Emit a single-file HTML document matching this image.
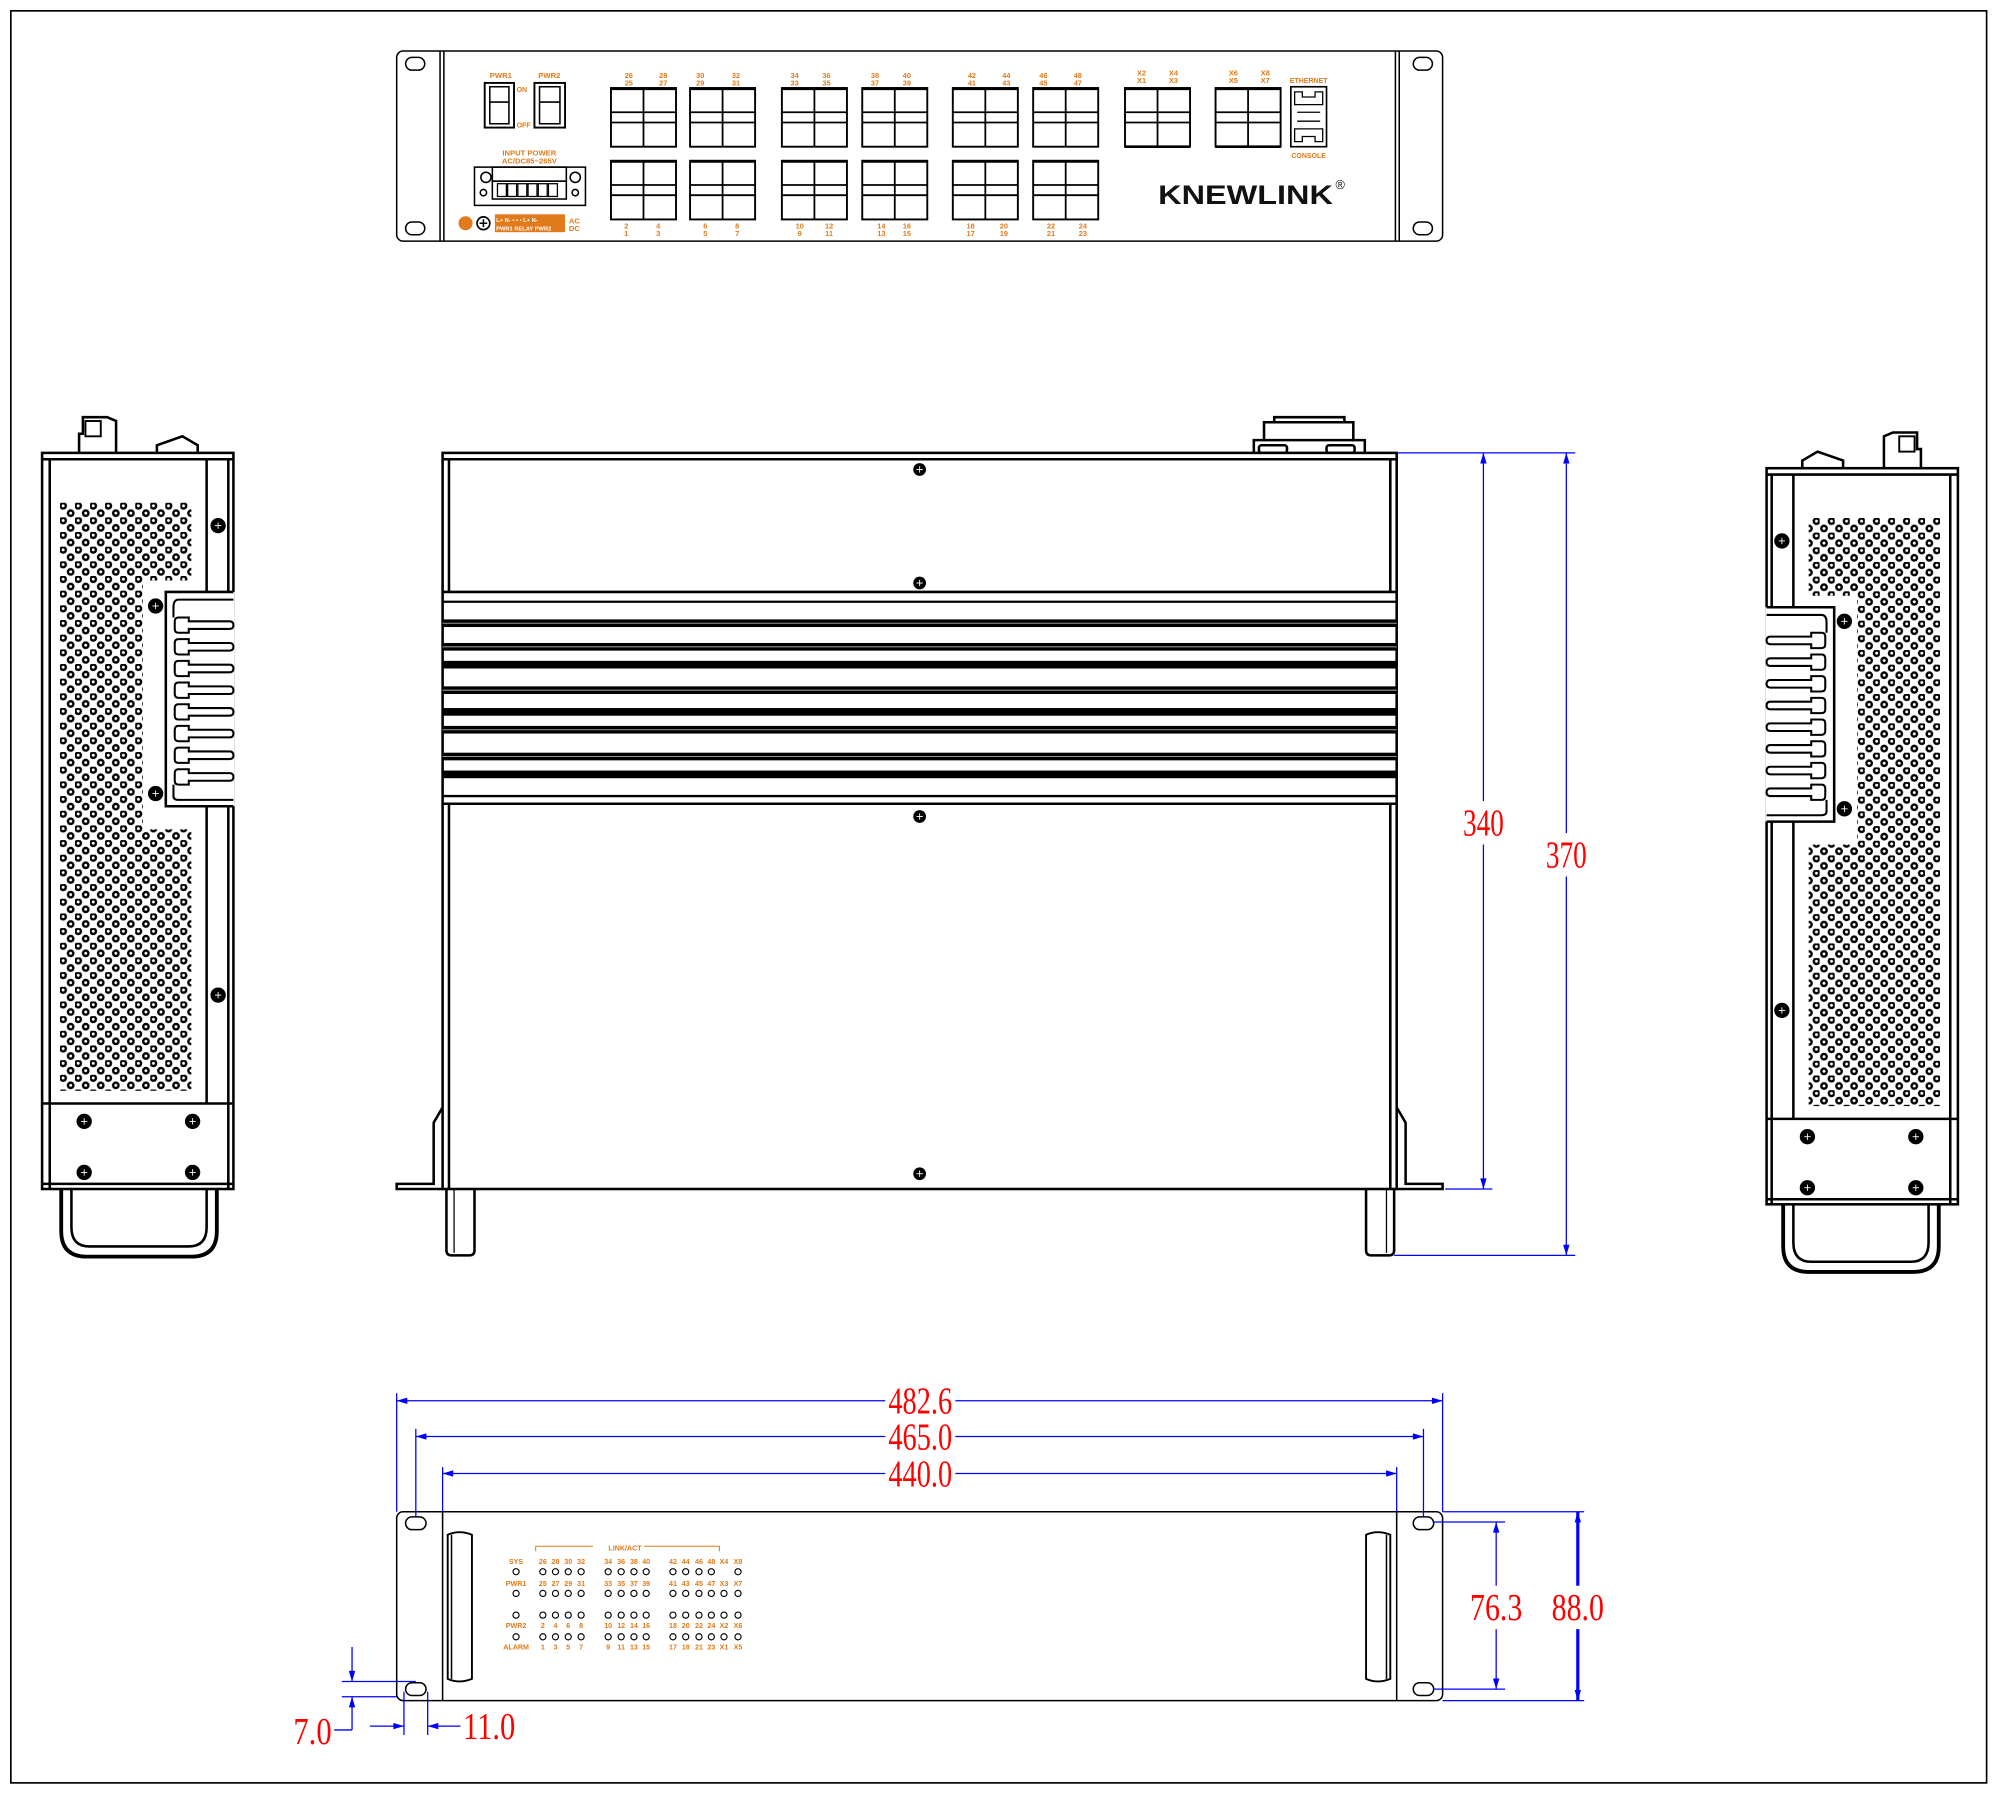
<!DOCTYPE html>
<html><head><meta charset="utf-8">
<style>
html,body{margin:0;padding:0;background:#fff;}
svg{display:block;}
.o{font-family:"Liberation Sans",sans-serif;fill:#e07a1a;font-weight:bold;}
.d{font-family:"Liberation Serif",serif;fill:#ff0000;}
</style></head>
<body>
<svg width="2000" height="1795" viewBox="0 0 1568 1407" preserveAspectRatio="none" xmlns="http://www.w3.org/2000/svg">
<defs>
<pattern id="perf" x="47" y="394" width="11.8" height="11.5" patternUnits="userSpaceOnUse">
<circle cx="2.5" cy="2.5" r="2.1" fill="#fff" stroke="#000" stroke-width="1.9"/>
<circle cx="8.4" cy="8.25" r="2.1" fill="#fff" stroke="#000" stroke-width="1.9"/>
</pattern>
<marker id="ar" viewBox="0 0 10 6" refX="10" refY="3" markerWidth="14" markerHeight="5" orient="auto-start-reverse" markerUnits="userSpaceOnUse"><path d="M0,0 L10,3 L0,6 z" fill="#0000ff"/></marker>
<g id="screw"><circle r="5" fill="#000"/><line x1="-2.5" y1="0" x2="2.5" y2="0" stroke="#fff" stroke-width="0.7"/><line x1="0" y1="-2.5" x2="0" y2="2.5" stroke="#fff" stroke-width="0.7"/></g>
<path id="fin" d="M140,0 Q137,0 137,3 V9 Q137,12 140,12 H148 V9 H180 Q183,9 183,6 Q183,3 180,3 H148 V0 Z" fill="#fff" stroke="#000" stroke-width="1.6"/>
<g id="side" fill="none" stroke="#000" stroke-width="2">
  <path d="M62,355 V340 H65 V327 H84 L91,330 V355" />
  <rect x="67" y="330" width="12" height="12" stroke-width="1.5"/>
  <path d="M123,355 V349 L143,342 L155,349 V355" fill="#fff"/>
  <rect x="33" y="355" width="150" height="577" fill="#fff"/>
  <line x1="33" y1="360" x2="183" y2="360"/>
  <line x1="39" y1="360" x2="39" y2="932"/>
  <line x1="162" y1="360" x2="162" y2="464"/>
  <line x1="162" y1="632" x2="162" y2="865"/>
  <line x1="179" y1="360" x2="179" y2="932"/>
  <rect x="47" y="394" width="103" height="61" fill="url(#perf)" stroke="none"/>
  <rect x="47" y="455" width="65" height="195" fill="url(#perf)" stroke="none"/>
  <rect x="47" y="650" width="103" height="205" fill="url(#perf)" stroke="none"/>
  <rect x="130" y="464" width="54" height="168" fill="#fff" stroke="none"/>
  <path d="M183,464 H130 V632 H183"/>
  <path d="M183,470 H140 Q136,470 136,476 V484" stroke-width="1.6"/>
  <use href="#fin" y="484"/><use href="#fin" y="501"/><use href="#fin" y="518"/><use href="#fin" y="535"/>
  <use href="#fin" y="552"/><use href="#fin" y="569"/><use href="#fin" y="586"/><use href="#fin" y="603"/>
  <path d="M136,615 V624 Q136,627 140,627 H183" stroke-width="1.6"/>
  <line x1="33" y1="865" x2="183" y2="865"/>
  <line x1="33" y1="928" x2="183" y2="928"/>
  <path d="M48,932 V965 Q48,985 68,985 H150 Q170,985 170,965 V932" stroke-width="3"/>
  <path d="M56,932 V962 Q56,977 70,977 H148 Q162,977 162,962 V932" stroke-width="2"/>
  <use href="#screw" x="171" y="412"/>
  <use href="#screw" x="122" y="475"/>
  <use href="#screw" x="122" y="622"/>
  <use href="#screw" x="171" y="780"/>
  <use href="#screw" x="66" y="879"/>
  <use href="#screw" x="151" y="879"/>
  <use href="#screw" x="66" y="919"/>
  <use href="#screw" x="151" y="919"/>
</g>
<g id="blk" fill="none" stroke="#000">
  <rect x="0" y="0" width="51" height="46" stroke-width="1.5"/>
  <line x1="0" y1="0.5" x2="51" y2="0.5" stroke-width="2.2"/>
  <line x1="25.5" y1="0" x2="25.5" y2="46" stroke-width="1.4"/>
  <line x1="0" y1="19" x2="51" y2="19" stroke-width="1.4"/>
  <line x1="0" y1="27" x2="51" y2="27" stroke-width="1.4"/>
</g>
<g id="led"><circle r="2.4" fill="#fff" stroke="#000" stroke-width="0.9"/></g>
</defs>

<rect x="0" y="0" width="1568" height="1407" fill="#fff"/>
<rect x="8.5" y="8.5" width="1549" height="1389" fill="none" stroke="#000" stroke-width="1.3"/>

<g fill="none" stroke="#000" stroke-width="1.2">
  <rect x="311" y="40" width="820" height="149" rx="5"/>
  <line x1="345" y1="40" x2="345" y2="189"/><line x1="348" y1="40" x2="348" y2="189"/>
  <line x1="1097" y1="40" x2="1097" y2="189"/><line x1="1094" y1="40" x2="1094" y2="189"/>
  <rect x="318" y="45" width="15" height="10" rx="5"/>
  <rect x="318" y="174" width="15" height="10" rx="5"/>
  <rect x="1108" y="45" width="15" height="10" rx="5"/>
  <rect x="1108" y="174" width="15" height="10" rx="5"/>
  <rect x="380" y="65" width="23" height="35" stroke-width="1.5"/>
  <rect x="384" y="68" width="15" height="29"/><line x1="384" y1="80" x2="399" y2="80"/>
  <rect x="419" y="65" width="24" height="35" stroke-width="1.5"/>
  <rect x="423" y="68" width="16" height="29"/><line x1="423" y1="80" x2="439" y2="80"/>
  <rect x="372" y="131" width="87" height="30"/>
  <rect x="386" y="131" width="58" height="11"/>
  <circle cx="381" cy="139" r="4"/><circle cx="451" cy="139" r="4"/>
  <rect x="386" y="142" width="58" height="14"/>
  <g stroke-width="1"><rect x="390" y="144" width="7" height="10"/><rect x="398" y="144" width="7" height="10"/><rect x="406" y="144" width="7" height="10"/><rect x="414" y="144" width="7" height="10"/><rect x="422" y="144" width="7" height="10"/><rect x="430" y="144" width="7" height="10"/></g>
  <circle cx="379" cy="151" r="2.5"/><circle cx="451" cy="151" r="2.5"/>
  <circle cx="379" cy="175" r="5" stroke-width="1.3"/>
  <path d="M376,175 H382 M379,172 V178"/>
</g>
<circle cx="365" cy="175" r="5.5" fill="#e07a1a"/>
<rect x="388" y="168" width="55" height="14" fill="#e07a1a"/>
<text class="o" x="389" y="174" font-size="4.5" style="fill:#fff">L+ N-  ▪ ▪ ▪  L+ N-</text>
<text class="o" x="389" y="180.5" font-size="4.5" style="fill:#fff">PWR1 RELAY PWR2</text>
<text class="o" x="446" y="175" font-size="6">AC</text>
<text class="o" x="446" y="181" font-size="6">DC</text>
<text class="o" x="384" y="61" font-size="6">PWR1</text>
<text class="o" x="422" y="61" font-size="6">PWR2</text>
<text class="o" x="405" y="72" font-size="5.5">ON</text>
<text class="o" x="405" y="100" font-size="5.5">OFF</text>
<text class="o" x="415" y="122" font-size="6" text-anchor="middle">INPUT POWER</text>
<text class="o" x="415" y="128" font-size="6" text-anchor="middle">AC/DC85~265V</text>

<use href="#blk" x="479" y="69"/><use href="#blk" x="541" y="69"/><use href="#blk" x="613" y="69"/><use href="#blk" x="676" y="69"/>
<use href="#blk" x="747" y="69"/><use href="#blk" x="810" y="69"/><use href="#blk" x="882" y="69"/><use href="#blk" x="953" y="69"/>
<use href="#blk" x="479" y="126"/><use href="#blk" x="541" y="126"/><use href="#blk" x="613" y="126"/><use href="#blk" x="676" y="126"/>
<use href="#blk" x="747" y="126"/><use href="#blk" x="810" y="126"/>
<line x1="882" y1="115" x2="933" y2="115" stroke="#000" stroke-width="2"/>
<line x1="953" y1="115" x2="1004" y2="115" stroke="#000" stroke-width="2"/>

<g class="o" font-size="5.8" text-anchor="middle">
<text x="493" y="61">26</text><text x="493" y="67">25</text><text x="520" y="61">28</text><text x="520" y="67">27</text>
<text x="549" y="61">30</text><text x="549" y="67">29</text><text x="577" y="61">32</text><text x="577" y="67">31</text>
<text x="623" y="61">34</text><text x="623" y="67">33</text><text x="648" y="61">36</text><text x="648" y="67">35</text>
<text x="686" y="61">38</text><text x="686" y="67">37</text><text x="711" y="61">40</text><text x="711" y="67">39</text>
<text x="762" y="61">42</text><text x="762" y="67">41</text><text x="789" y="61">44</text><text x="789" y="67">43</text>
<text x="818" y="61">46</text><text x="818" y="67">45</text><text x="845" y="61">48</text><text x="845" y="67">47</text>
<text x="895" y="59">X2</text><text x="895" y="65">X1</text><text x="920" y="59">X4</text><text x="920" y="65">X3</text>
<text x="967" y="59">X6</text><text x="967" y="65">X5</text><text x="992" y="59">X8</text><text x="992" y="65">X7</text>
<text x="491" y="179">2</text><text x="491" y="185">1</text><text x="516" y="179">4</text><text x="516" y="185">3</text>
<text x="553" y="179">6</text><text x="553" y="185">5</text><text x="578" y="179">8</text><text x="578" y="185">7</text>
<text x="627" y="179">10</text><text x="627" y="185">9</text><text x="650" y="179">12</text><text x="650" y="185">11</text>
<text x="691" y="179">14</text><text x="691" y="185">13</text><text x="711" y="179">16</text><text x="711" y="185">15</text>
<text x="761" y="179">18</text><text x="761" y="185">17</text><text x="787" y="179">20</text><text x="787" y="185">19</text>
<text x="824" y="179">22</text><text x="824" y="185">21</text><text x="849" y="179">24</text><text x="849" y="185">23</text>
<text x="1026" y="65" font-size="5.5">ETHERNET</text>
<text x="1026" y="124" font-size="5.5">CONSOLE</text>
</g>
<g fill="none" stroke="#000" stroke-width="1">
  <rect x="1012" y="68" width="28" height="47" stroke-width="1.3"/>
  <path d="M1015,72 h6 v4 h10 v-4 h6 v10 h-22 z"/>
  <path d="M1015,111 h6 v-4 h10 v4 h6 v-10 h-22 z"/>
  <line x1="1017" y1="88" x2="1035" y2="88"/><line x1="1017" y1="95" x2="1035" y2="95"/>
</g>
<text x="908" y="160" font-family="Liberation Sans,sans-serif" font-weight="bold" font-size="21" textLength="137" lengthAdjust="spacingAndGlyphs" fill="#111">KNEWLINK</text>
<text x="1047" y="148" font-family="Liberation Sans,sans-serif" font-size="10" fill="#111">®</text>

<use href="#side"/>
<use href="#side" transform="translate(1568,12) scale(-1,1)"/>

<g fill="none" stroke="#000" stroke-width="2">
  <path d="M983,355 V345 H991 V331 H999 V327 H1054 V331 H1061 V345 H1070 V355"/>
  <line x1="991" y1="331" x2="1061" y2="331"/>
  <line x1="991" y1="345" x2="1061" y2="345"/>
  <rect x="987" y="349" width="22" height="6" rx="2"/>
  <rect x="1040" y="349" width="22" height="6" rx="2"/>
  <rect x="347" y="355" width="748" height="577" fill="#fff"/>
  <line x1="347" y1="360" x2="1095" y2="360"/>
  <line x1="352" y1="360" x2="352" y2="464"/>
  <line x1="1090" y1="360" x2="1090" y2="464"/>
  <line x1="347" y1="464" x2="1095" y2="464"/>
  <line x1="347" y1="471.7" x2="1095" y2="471.7" stroke-width="1.8"/>
  <line x1="347" y1="624" x2="1095" y2="624" stroke-width="1.8"/>
  <line x1="347" y1="630" x2="1095" y2="630"/>
  <line x1="352" y1="630" x2="352" y2="932"/>
  <line x1="1090" y1="630" x2="1090" y2="932"/>
  <path d="M347,868 L340,880 V928 H311 V932 H347"/>
  <path d="M1095,868 L1102,880 V928 H1131 V932 H1095"/>
  <path d="M350,932 V980 Q350,984 354,984 H368 Q372,984 372,980 V932" />
  <line x1="356" y1="932" x2="356" y2="982" stroke-width="1"/>
  <path d="M1071,932 V980 Q1071,984 1075,984 H1089 Q1093,984 1093,980 V932" />
  <line x1="1087" y1="932" x2="1087" y2="982" stroke-width="1"/>
</g>
<g fill="#000">
  <rect x="347" y="485.5" width="748" height="6"/>
  <rect x="347" y="504" width="748" height="6"/>
  <rect x="347" y="518" width="748" height="6"/>
  <rect x="347" y="538" width="748" height="6"/>
  <rect x="347" y="555" width="748" height="6"/>
  <rect x="347" y="569" width="748" height="6"/>
  <rect x="347" y="590" width="748" height="6"/>
  <rect x="347" y="604" width="748" height="6"/>
</g>
<g stroke="#999" stroke-width="0.8">
  <line x1="347" y1="488.5" x2="1095" y2="488.5"/><line x1="347" y1="507" x2="1095" y2="507"/>
  <line x1="347" y1="541" x2="1095" y2="541"/><line x1="347" y1="572" x2="1095" y2="572"/>
  <line x1="347" y1="593" x2="1095" y2="593"/>
</g>
<use href="#screw" x="721" y="368"/><use href="#screw" x="721" y="457"/>
<use href="#screw" x="721" y="640"/><use href="#screw" x="721" y="920"/>

<g stroke="#0000ff" stroke-width="1" fill="none">
  <line x1="1095" y1="355" x2="1235" y2="355"/>
  <line x1="1133" y1="932" x2="1170" y2="932"/>
  <line x1="1093" y1="984" x2="1235" y2="984"/>
  <line x1="1163" y1="355" x2="1163" y2="628" marker-start="url(#ar)"/>
  <line x1="1163" y1="662" x2="1163" y2="932" marker-end="url(#ar)"/>
  <line x1="1228" y1="355" x2="1228" y2="653" marker-start="url(#ar)"/>
  <line x1="1228" y1="687" x2="1228" y2="984" marker-end="url(#ar)"/>
</g>
<text class="d" x="1163" y="655" font-size="30" text-anchor="middle" textLength="32" lengthAdjust="spacingAndGlyphs">340</text>
<text class="d" x="1228" y="680" font-size="30" text-anchor="middle" textLength="32" lengthAdjust="spacingAndGlyphs">370</text>

<g fill="none" stroke="#000" stroke-width="1.2">
  <rect x="311" y="1185" width="820" height="148" rx="5"/>
  <line x1="347" y1="1185" x2="347" y2="1333"/>
  <line x1="1095" y1="1185" x2="1095" y2="1333"/>
  <rect x="318" y="1189" width="16" height="10" rx="5"/>
  <rect x="318" y="1319" width="16" height="10" rx="5"/>
  <rect x="1108" y="1189" width="16" height="10" rx="5"/>
  <rect x="1108" y="1319" width="16" height="10" rx="5"/>
  <path d="M351,1203 Q360,1199 370,1203 V1316 Q360,1320 351,1316 Z" stroke-width="1.5"/>
  <line x1="354" y1="1203" x2="354" y2="1316"/>
  <path d="M1071,1203 Q1080,1199 1090,1203 V1316 Q1080,1320 1071,1316 Z" stroke-width="1.5"/>
  <line x1="1087" y1="1203" x2="1087" y2="1316"/>
</g>
<path d="M420,1216 V1212 H465 M505,1212 H564 V1216" fill="none" stroke="#e07a1a" stroke-width="0.8"/>
<g class="o" font-size="5.6" text-anchor="middle" font-weight="normal">
<text x="490" y="1215.5">LINK/ACT</text>
<text x="404.6" y="1226">SYS</text><text x="404.6" y="1243">PWR1</text><text x="404.6" y="1276">PWR2</text><text x="404.6" y="1293">ALARM</text>
<text x="425.6" y="1226">26</text><text x="435.5" y="1226">28</text><text x="445.5" y="1226">30</text><text x="455.6" y="1226">32</text>
<text x="476.8" y="1226">34</text><text x="487" y="1226">36</text><text x="497" y="1226">38</text><text x="506.6" y="1226">40</text>
<text x="527.6" y="1226">42</text><text x="537.6" y="1226">44</text><text x="548" y="1226">46</text><text x="557.7" y="1226">48</text><text x="567.6" y="1226">X4</text><text x="578.6" y="1226">X8</text>
<text x="425.6" y="1243">25</text><text x="435.5" y="1243">27</text><text x="445.5" y="1243">29</text><text x="455.6" y="1243">31</text>
<text x="476.8" y="1243">33</text><text x="487" y="1243">35</text><text x="497" y="1243">37</text><text x="506.6" y="1243">39</text>
<text x="527.6" y="1243">41</text><text x="537.6" y="1243">43</text><text x="548" y="1243">45</text><text x="557.7" y="1243">47</text><text x="567.6" y="1243">X3</text><text x="578.6" y="1243">X7</text>
<text x="425.6" y="1276">2</text><text x="435.5" y="1276">4</text><text x="445.5" y="1276">6</text><text x="455.6" y="1276">8</text>
<text x="476.8" y="1276">10</text><text x="487" y="1276">12</text><text x="497" y="1276">14</text><text x="506.6" y="1276">16</text>
<text x="527.6" y="1276">18</text><text x="537.6" y="1276">20</text><text x="548" y="1276">22</text><text x="557.7" y="1276">24</text><text x="567.6" y="1276">X2</text><text x="578.6" y="1276">X6</text>
<text x="425.6" y="1293">1</text><text x="435.5" y="1293">3</text><text x="445.5" y="1293">5</text><text x="455.6" y="1293">7</text>
<text x="476.8" y="1293">9</text><text x="487" y="1293">11</text><text x="497" y="1293">13</text><text x="506.6" y="1293">15</text>
<text x="527.6" y="1293">17</text><text x="537.6" y="1293">18</text><text x="548" y="1293">21</text><text x="557.7" y="1293">23</text><text x="567.6" y="1293">X1</text><text x="578.6" y="1293">X5</text>
</g>
<g>
<use href="#led" x="404.6" y="1232"/><use href="#led" x="404.6" y="1249"/><use href="#led" x="404.6" y="1266"/><use href="#led" x="404.6" y="1283"/>
<g id="ledrow">
<use href="#led" x="425.6" y="1232"/><use href="#led" x="435.5" y="1232"/><use href="#led" x="445.5" y="1232"/><use href="#led" x="455.6" y="1232"/>
<use href="#led" x="476.8" y="1232"/><use href="#led" x="487" y="1232"/><use href="#led" x="497" y="1232"/><use href="#led" x="506.6" y="1232"/>
<use href="#led" x="527.6" y="1232"/><use href="#led" x="537.6" y="1232"/><use href="#led" x="548" y="1232"/><use href="#led" x="557.7" y="1232"/>
<use href="#led" x="578.6" y="1232"/>
</g>
<use href="#ledrow" y="17"/><use href="#led" x="567.6" y="1249"/>
<use href="#ledrow" y="34"/><use href="#led" x="567.6" y="1266"/>
<use href="#ledrow" y="51"/><use href="#led" x="567.6" y="1283"/>
</g>

<g stroke="#0000ff" stroke-width="1" fill="none">
  <line x1="311" y1="1092" x2="311" y2="1185"/>
  <line x1="1131" y1="1092" x2="1131" y2="1185"/>
  <line x1="326" y1="1120" x2="326" y2="1189"/>
  <line x1="1116" y1="1120" x2="1116" y2="1189"/>
  <line x1="347" y1="1150" x2="347" y2="1185"/>
  <line x1="1095" y1="1150" x2="1095" y2="1185"/>
  <line x1="311" y1="1098" x2="694" y2="1098" marker-start="url(#ar)"/>
  <line x1="749" y1="1098" x2="1131" y2="1098" marker-end="url(#ar)"/>
  <line x1="326" y1="1126" x2="694" y2="1126" marker-start="url(#ar)"/>
  <line x1="749" y1="1126" x2="1116" y2="1126" marker-end="url(#ar)"/>
  <line x1="347" y1="1155" x2="694" y2="1155" marker-start="url(#ar)"/>
  <line x1="749" y1="1155" x2="1095" y2="1155" marker-end="url(#ar)"/>
  <line x1="1131" y1="1185" x2="1242" y2="1185"/>
  <line x1="1131" y1="1333" x2="1242" y2="1333"/>
  <line x1="1124" y1="1193" x2="1180" y2="1193"/>
  <line x1="1124" y1="1324" x2="1180" y2="1324"/>
  <line x1="1173" y1="1193" x2="1173" y2="1243" marker-start="url(#ar)"/>
  <line x1="1173" y1="1277" x2="1173" y2="1324" marker-end="url(#ar)"/>
  <line x1="1237" y1="1185" x2="1237" y2="1243" marker-start="url(#ar)" stroke-width="2.5"/>
  <line x1="1237" y1="1277" x2="1237" y2="1333" marker-end="url(#ar)" stroke-width="2.5"/>
  <line x1="268" y1="1318" x2="326" y2="1318"/>
  <line x1="268" y1="1330" x2="311" y2="1330"/>
  <line x1="276" y1="1291" x2="276" y2="1318" marker-end="url(#ar)"/>
  <line x1="276" y1="1356" x2="276" y2="1330" marker-end="url(#ar)"/>
  <line x1="276" y1="1356" x2="262" y2="1356"/>
  <line x1="316.7" y1="1326" x2="316.7" y2="1360"/>
  <line x1="335.3" y1="1326" x2="335.3" y2="1360"/>
  <line x1="290" y1="1353" x2="316.7" y2="1353" marker-end="url(#ar)"/>
  <line x1="361" y1="1353" x2="335.3" y2="1353" marker-end="url(#ar)"/>
</g>
<text class="d" x="721.5" y="1108" font-size="30" text-anchor="middle" textLength="50" lengthAdjust="spacingAndGlyphs">482.6</text>
<text class="d" x="721.5" y="1136" font-size="30" text-anchor="middle" textLength="50" lengthAdjust="spacingAndGlyphs">465.0</text>
<text class="d" x="721.5" y="1165" font-size="30" text-anchor="middle" textLength="50" lengthAdjust="spacingAndGlyphs">440.0</text>
<text class="d" x="1173" y="1270" font-size="30" text-anchor="middle" textLength="41" lengthAdjust="spacingAndGlyphs">76.3</text>
<text class="d" x="1237" y="1270" font-size="30" text-anchor="middle" textLength="41" lengthAdjust="spacingAndGlyphs">88.0</text>
<text class="d" x="230" y="1367" font-size="30" textLength="30" lengthAdjust="spacingAndGlyphs">7.0</text>
<text class="d" x="363" y="1363" font-size="30" textLength="41" lengthAdjust="spacingAndGlyphs">11.0</text>
</svg>
</body></html>
